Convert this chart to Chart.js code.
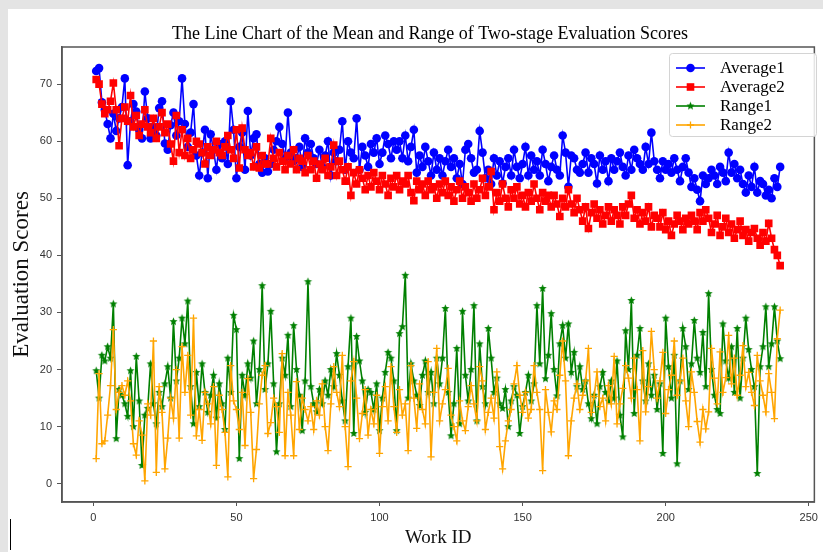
<!DOCTYPE html>
<html><head><meta charset="utf-8">
<script src="https://cdn.jsdelivr.net/npm/chart.js@4.4.1/dist/chart.umd.min.js"></script>
<style>
html,body{margin:0;padding:0;background:#e4e4e4;width:823px;height:552px;overflow:hidden}
#panel{position:absolute;left:8px;top:9px;right:0;bottom:0;background:#fff}
#cursor{position:absolute;left:10px;top:519px;width:1px;height:31px;background:#000}
#wrap{position:absolute;left:0;top:0;width:823px;height:552px}
</style></head><body>
<div id="panel"></div><div id="cursor"></div>
<div id="wrap"><canvas id="c" width="823" height="552"></canvas></div>
<script>
const chartTitle = 'The Line Chart of the Mean and Range of Two-stage Evaluation Scores';
const xTitle = 'Work ID';
const yTitle = 'Evaluation Scores';
const seriesNames = ['Average1', 'Average2', 'Range1', 'Range2'];
const xTickValues = [0, 50, 100, 150, 200, 250];
const yTickValues = [0, 10, 20, 30, 40, 50, 60, 70];
const workIds = Array.from({length: 240}, (_, i) => i + 1);

const average1 = [
72.3,72.8,66.8,65.5,63.0,60.5,64.8,61.8,64.0,66.0,
71.0,55.8,63.5,66.5,65.2,62.0,60.5,68.7,64.0,60.5,
62.5,61.0,65.8,67.0,59.6,58.5,62.8,65.0,61.0,63.5,
71.0,63.0,59.0,61.5,66.5,57.5,54.0,58.0,62.0,53.5,
61.2,58.5,55.0,59.5,57.0,60.0,56.0,67.0,62.0,53.5,
59.0,61.5,55.0,65.3,57.5,60.5,61.2,56.0,54.5,57.0,
54.7,56.0,58.5,60.0,62.5,59.5,57.0,65.0,58.0,56.5,
57.0,59.0,55.5,60.5,58.0,59.5,57.0,56.0,58.5,55.5,
57.5,60.0,54.0,58.0,56.5,58.5,63.5,55.0,60.0,58.0,
57.0,64.0,55.0,59.0,57.5,55.5,59.5,58.0,60.5,56.0,
58.0,61.0,59.5,57.0,60.0,58.5,60.0,57.0,61.0,56.5,
59.0,62.0,54.5,57.5,55.5,59.0,56.5,54.0,58.0,55.0,
57.0,54.0,56.5,58.5,55.5,57.0,53.5,56.0,52.5,58.5,
59.5,57.0,54.5,55.0,61.8,58.0,53.5,55.0,52.5,57.0,
54.0,56.5,52.6,55.5,57.0,54.0,58.5,55.5,53.5,56.0,
59.0,54.0,57.5,55.0,56.5,54.0,58.5,56.0,53.0,55.5,
57.5,55.0,54.0,61.0,58.0,52.0,57.5,57.0,55.0,54.5,
56.0,58.0,54.5,57.0,56.0,52.6,57.5,55.0,56.5,53.0,
57.0,55.0,56.5,58.0,55.5,54.0,57.5,55.0,58.5,57.0,
56.0,55.0,59.0,56.0,61.5,56.5,55.0,53.5,56.5,55.0,
56.0,54.5,57.0,55.0,53.0,55.5,57.0,54.5,52.0,53.5,
51.5,49.5,54.0,52.5,53.5,55.0,54.0,52.5,55.5,54.5,
53.0,58.0,54.5,56.0,53.5,55.0,52.5,51.0,54.0,52.0,
55.5,51.0,53.0,52.5,50.5,51.5,50.0,53.5,52.0,55.5];

const average2 = [
70.8,70.0,66.5,64.8,65.5,67.0,70.2,65.5,59.2,64.0,
66.0,63.5,68.0,62.5,64.5,61.0,63.0,65.5,62.5,61.5,
64.0,60.5,62.5,65.0,61.5,63.0,59.5,56.5,64.5,58.0,
62.0,57.5,60.5,57.0,58.5,60.0,59.5,58.0,56.0,59.0,
57.5,58.5,60.0,58.0,57.5,59.0,61.0,58.5,57.0,62.0,
55.3,62.3,58.5,57.5,58.0,55.5,59.0,55.3,57.5,56.0,
56.0,60.5,57.0,55.5,58.0,56.5,55.0,57.5,56.0,58.5,
55.0,57.0,56.5,54.5,57.5,55.0,56.5,53.5,56.0,55.0,
57.0,54.0,55.5,59.3,54.0,56.5,55.0,53.0,55.5,50.5,
54.5,52.5,55.0,53.5,51.5,54.0,52.0,54.5,53.0,51.5,
54.0,52.5,50.5,53.5,52.0,54.0,51.5,53.0,52.5,54.0,
51.0,49.6,53.0,51.5,52.5,50.5,53.0,51.5,52.0,50.0,
52.5,51.0,53.0,50.5,52.0,49.5,51.5,53.0,50.0,52.0,
51.0,49.5,52.5,50.0,51.5,53.5,50.5,52.0,54.7,48.0,
51.0,49.5,52.5,50.0,48.5,51.5,50.0,52.0,49.0,50.5,
48.5,51.0,49.5,52.5,50.0,48.0,51.0,49.5,50.5,48.5,
50.5,49.0,46.8,50.0,48.5,51.5,49.0,47.5,50.0,48.0,
46.0,48.5,44.7,47.5,49.0,46.5,48.0,45.5,47.0,48.5,
46.0,48.0,47.0,45.5,48.5,47.0,49.0,50.5,46.5,48.0,
45.5,47.5,46.0,48.5,45.0,47.0,46.5,45.0,47.5,44.5,
46.0,43.5,45.5,47.0,46.0,44.5,46.5,45.5,47.0,46.0,
44.5,47.5,46.0,48.0,46.5,44.0,45.5,47.0,43.5,45.0,
46.5,44.0,45.5,43.0,44.5,46.0,43.5,44.5,42.5,44.0,
44.7,43.0,41.8,44.0,42.5,45.6,43.0,41.0,40.0,38.2];

const range1 = [
19.8,15.0,22.5,21.5,24.0,22.0,31.5,7.9,16.5,15.5,
14.0,11.8,19.8,10.0,22.3,14.5,3.2,12.0,13.2,21.0,
14.0,10.5,16.0,13.5,17.5,20.5,15.0,28.4,18.0,22.0,
29.0,24.5,32.0,17.0,10.5,19.5,13.5,21.0,16.0,12.5,
15.5,19.0,11.5,17.5,14.0,9.5,22.0,16.0,29.5,27.0,
4.4,19.0,15.5,21.0,18.5,25.0,14.0,20.0,34.7,16.5,
21.0,30.2,17.5,5.6,14.0,22.0,19.0,26.0,13.5,27.7,
20.0,15.5,9.3,18.0,35.4,17.0,14.0,12.6,16.5,14.0,
18.0,15.5,20.0,17.0,22.8,19.0,14.5,11.0,20.5,29.0,
8.8,25.8,21.5,18.0,12.5,16.5,16.0,13.0,17.5,9.3,
15.0,19.5,23.0,22.0,18.0,9.3,26.3,27.5,36.5,15.0,
21.0,18.0,15.5,13.7,19.0,21.5,16.0,19.5,14.0,22.0,
17.5,22.0,30.7,16.0,8.4,14.0,23.7,10.5,30.2,19.0,
14.5,20.0,31.2,11.0,24.5,17.0,14.0,27.2,22.0,16.0,
18.5,14.0,13.2,16.5,10.0,14.5,17.0,15.5,8.8,13.5,
16.0,19.0,14.5,17.5,31.2,21.0,34.2,18.4,22.5,29.8,
20.0,15.4,24.5,27.7,22.0,28.0,19.5,23.0,17.0,20.5,
16.5,18.0,14.0,11.4,15.5,10.5,17.0,19.5,16.0,14.5,
18.0,15.0,21.5,12.0,8.2,26.8,20.0,32.1,12.3,22.5,
27.2,18.0,14.5,21.0,15.5,19.0,13.0,17.5,5.3,29.0,
20.5,15.0,22.5,3.5,18.0,27.2,24.0,16.5,21.0,28.6,
22.0,19.5,26.5,17.0,33.3,20.0,15.5,13.0,12.3,28.0,
21.5,18.5,24.0,16.0,27.2,15.0,22.0,29.0,23.5,20.0,
17.0,1.8,20.5,24.0,31.0,20.5,24.5,31.0,25.0,21.9];

const range2 = [
4.4,19.3,7.0,7.5,12.0,17.2,27.0,13.0,16.0,17.2,
15.5,18.0,14.5,7.0,5.0,11.0,8.5,0.5,14.0,12.0,
25.0,2.0,17.0,12.5,2.6,8.0,15.0,11.5,20.0,8.0,
24.0,16.0,22.5,12.0,29.0,8.4,13.0,7.6,16.0,14.0,
10.5,17.0,3.2,15.5,13.0,9.0,1.2,20.7,14.5,13.0,
9.5,16.0,6.7,18.4,12.5,0.9,6.0,14.0,19.0,20.7,
8.8,10.7,15.0,13.5,9.0,22.8,4.9,16.0,12.0,4.9,
17.9,9.5,15.0,13.0,11.0,13.5,9.5,14.5,12.0,17.5,
10.0,5.8,14.0,20.5,16.0,13.5,22.5,10.0,3.0,18.0,
21.4,15.0,7.9,12.3,16.5,8.5,13.0,10.5,15.5,5.3,
13.5,17.0,11.0,20.5,13.5,9.0,16.5,12.0,14.0,5.8,
20.7,15.0,9.7,17.5,13.0,10.5,21.4,4.7,16.0,23.7,
11.0,14.0,16.5,20.2,12.0,10.0,7.5,14.5,11.0,9.3,
13.5,17.2,14.0,11.0,20.5,18.0,9.5,12.5,15.0,11.5,
19.6,6.5,2.6,7.5,11.0,13.0,17.5,20.7,15.5,12.5,
16.0,11.5,13.0,20.7,16.0,13.0,2.3,16.5,12.5,9.1,
14.5,13.0,19.0,25.0,18.0,4.9,11.0,15.0,17.5,13.0,
15.5,18.0,23.7,12.5,15.3,19.6,13.5,15.0,11.0,17.2,
14.0,22.3,10.5,14.0,16.7,20.7,18.5,15.0,22.0,16.5,
7.5,23.3,12.6,17.0,26.7,20.0,15.0,18.0,23.0,12.3,
16.5,19.0,25.0,15.5,18.0,22.0,14.5,10.0,19.6,16.0,
10.9,7.3,13.0,9.6,12.6,23.7,18.5,14.0,23.1,16.0,
18.6,26.0,17.5,22.0,15.5,19.0,24.2,17.0,19.5,16.0,
13.7,22.5,18.0,15.5,12.6,19.3,16.0,11.4,25.4,30.4];

const colors = ['#0000ff', '#ff0000', '#008000', '#ffa500'];

function makeStar(color, r) {
  const c = document.createElement('canvas');
  const s = Math.ceil(r * 2 + 2);
  c.width = s; c.height = s;
  const g = c.getContext('2d');
  g.fillStyle = color;
  g.beginPath();
  for (let k = 0; k < 10; k++) {
    const rr = k % 2 ? r * 0.45 : r;
    const a = -Math.PI / 2 + k * Math.PI / 5;
    g.lineTo(s / 2 + rr * Math.cos(a), s / 2 + rr * Math.sin(a));
  }
  g.closePath(); g.fill();
  return c;
}
const starImg = makeStar(colors[2], 4.3);

const toPts = arr => workIds.map((id, i) => ({x: id, y: arr[i]}));
const serif = '"Liberation Serif", "Times New Roman", serif';
const sans = '"Liberation Sans", Arial, sans-serif';

const markerSpecs = [
  {style: 'circle', radius: 4.3},
  {style: 'rect', radius: 5.4},
  {style: starImg, radius: 4},
  {style: 'cross', radius: 3.6}
];

const framePlugin = {
  id: 'frame',
  afterDatasetsDraw(chart) {
    const {ctx, chartArea: a} = chart;
    ctx.save();
    ctx.strokeStyle = '#555';
    ctx.lineWidth = 1.5;
    ctx.strokeRect(a.left, a.top, a.right - a.left, a.bottom - a.top);
    ctx.restore();
  }
};

const titleLegendPlugin = {
  id: 'titleLegend',
  afterDraw(chart) {
    const ctx = chart.ctx;
    ctx.save();
    ctx.fillStyle = '#000';
    ctx.font = '18px ' + serif;
    ctx.textAlign = 'center';
    ctx.textBaseline = 'middle';
    ctx.fillText(chartTitle, 430, 34);
    const bx = 669.5, by = 53.5, bw = 147, bh = 83;
    ctx.beginPath();
    ctx.roundRect(bx, by, bw, bh, 3);
    ctx.fillStyle = 'rgba(255,255,255,0.85)';
    ctx.fill();
    ctx.strokeStyle = '#d4d4d4';
    ctx.lineWidth = 1;
    ctx.stroke();
    seriesNames.forEach((name, i) => {
      const y = 68 + i * 19;
      ctx.strokeStyle = colors[i];
      ctx.fillStyle = colors[i];
      ctx.lineWidth = 1.6;
      ctx.beginPath(); ctx.moveTo(676, y); ctx.lineTo(705, y); ctx.stroke();
      const cx = 690.5;
      if (i === 0) { ctx.beginPath(); ctx.arc(cx, y, 4.3, 0, Math.PI * 2); ctx.fill(); }
      else if (i === 1) { ctx.fillRect(cx - 3.8, y - 3.8, 7.6, 7.6); }
      else if (i === 2) { ctx.drawImage(starImg, cx - starImg.width / 2, y - starImg.height / 2); }
      else { ctx.lineWidth = 1.3; ctx.beginPath(); ctx.moveTo(cx - 3.6, y); ctx.lineTo(cx + 3.6, y); ctx.moveTo(cx, y - 3.6); ctx.lineTo(cx, y + 3.6); ctx.stroke(); }
      ctx.fillStyle = '#000';
      ctx.font = '17px ' + serif;
      ctx.textAlign = 'left';
      ctx.fillText(name, 720, y + 1);
    });
    ctx.restore();
  }
};

const seriesValues = [average1, average2, range1, range2];
const datasets = seriesValues.map((arr, i) => ({
  label: seriesNames[i],
  data: toPts(arr),
  borderColor: colors[i],
  backgroundColor: colors[i],
  borderWidth: 1.6,
  pointStyle: markerSpecs[i].style,
  pointRadius: markerSpecs[i].radius,
  pointBorderWidth: i === 3 ? 1.3 : 0,
  pointBackgroundColor: colors[i],
  pointBorderColor: colors[i],
  tension: 0,
  order: 4 - i
}));

new Chart(document.getElementById('c'), {
  type: 'line',
  data: {datasets},
  plugins: [framePlugin, titleLegendPlugin],
  options: {
    responsive: false,
    animation: false,
    devicePixelRatio: 1,
    layout: {padding: {left: 0, right: 2, top: 47, bottom: 0}},
    plugins: {
      legend: {display: false},
      title: {display: false},
      tooltip: {enabled: false}
    },
    scales: {
      x: {
        type: 'linear',
        min: -10.95,
        max: 251.95,
        afterBuildTicks: s => { s.ticks = xTickValues.map(v => ({value: v})); },
        afterFit: s => { s.height = 50; },
        ticks: {font: {family: sans, size: 11}, color: '#333', padding: 5, maxRotation: 0, autoSkip: false},
        grid: {drawOnChartArea: false, tickLength: 4, color: '#555', tickWidth: 1},
        border: {display: true, color: '#555', width: 1.5},
        title: {display: true, text: xTitle, color: '#111', font: {family: serif, size: 19}, padding: {top: 0, bottom: 3}}
      },
      y: {
        type: 'linear',
        min: -3.2,
        max: 76.5,
        afterBuildTicks: s => { s.ticks = yTickValues.map(v => ({value: v})); },
        afterFit: s => { s.width = 62; },
        ticks: {font: {family: sans, size: 11}, color: '#333', padding: 5, autoSkip: false},
        grid: {drawOnChartArea: false, tickLength: 5, color: '#555', tickWidth: 1},
        border: {display: true, color: '#555', width: 1.5},
        title: {display: true, text: yTitle, color: '#111', font: {family: serif, size: 23}, padding: {top: 8, bottom: 0}}
      }
    }
  }
});
</script>
</body></html>
